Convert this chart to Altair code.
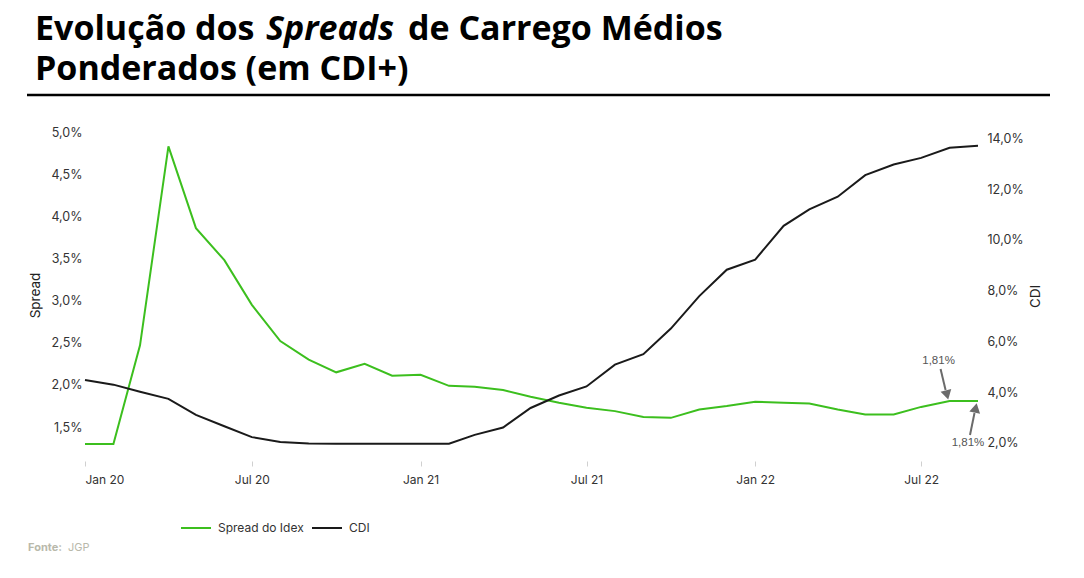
import altair as alt
import pandas as pd

# ---------------- data ----------------
months = pd.date_range("2020-01-01", periods=33, freq="MS").strftime("%Y-%m-%dT00:00:00").tolist()
spread = [1.30, 1.30, 2.47, 4.83, 3.86, 3.48, 2.95, 2.52, 2.30, 2.15, 2.25, 2.11, 2.12,
          1.99, 1.98, 1.94, 1.86, 1.79, 1.73, 1.69, 1.62, 1.61, 1.71, 1.75, 1.80, 1.79,
          1.78, 1.71, 1.65, 1.65, 1.74, 1.81, 1.81]
cdi = [4.47, 4.29, 4.01, 3.73, 3.10, 2.65, 2.22, 2.03, 1.97, 1.96, 1.96, 1.96, 1.96,
       1.96, 2.31, 2.60, 3.37, 3.86, 4.22, 5.08, 5.49, 6.50, 7.78, 8.82, 9.22, 10.55,
       11.20, 11.70, 12.55, 12.97, 13.23, 13.63, 13.71]
series_names = ["Spread do Idex", "CDI"]
series_colors = ["#3cbf1e", "#1a1a1a"]
left_ticks = [1.5, 2.0, 2.5, 3.0, 3.5, 4.0, 4.5, 5.0]
right_ticks = [2, 4, 6, 8, 10, 12, 14]
x_tick_ym = [(2020, 1), (2020, 7), (2021, 1), (2021, 7), (2022, 1), (2022, 7)]
annot_dates = ["2022-08-01T00:00:00", "2022-09-01T00:00:00"]
annot_values = [1.81, 1.81]
title_line1 = ["Evolução dos", "Spreads", "de Carrego Médios"]
title_line2 = "Ponderados (em CDI+)"
source_label = ["Fonte:", "JGP"]

# ---------------- frames ----------------
df = pd.DataFrame({"date": months, "spread": spread, "cdi": cdi})
ann = pd.DataFrame({"date": annot_dates, "value": annot_values})
ann["label"] = ann["value"].map(lambda v: f"{v:.2f}".replace(".", ",") + "%")
one = pd.DataFrame({"k": [0]})

FONT = "Inter"
LBL = "#333333"
pct_expr = "replace(format(datum.value, '.1f'), '.', ',') + '%'"

xdomain = [alt.DateTime(year=2020, month=1, date=1), alt.DateTime(year=2022, month=9, date=1)]
xvals = [alt.DateTime(year=y, month=m, date=1) for y, m in x_tick_ym]

def xenc():
    return alt.X(
        "date:T",
        scale=alt.Scale(domain=xdomain, nice=False),
        axis=alt.Axis(
            values=xvals, labelExpr="timeFormat(datum.value, '%b %y')", title=None,
            domain=False, grid=False, ticks=True, tickSize=5, tickColor="#d0d0d0",
            offset=17, labelPadding=8, labelFont=FONT, labelFontSize=12, labelColor=LBL,
        ),
    )

def yleft(field):
    return alt.Y(
        field, scale=alt.Scale(domain=[1.3, 5.0], nice=False, zero=False),
        axis=alt.Axis(
            orient="left", values=left_ticks, labelExpr=pct_expr, grid=False, domain=False,
            ticks=False, labelPadding=3, labelFont=FONT, labelFontSize=12.5, labelColor=LBL,
            title="Spread", titleFont=FONT, titleFontSize=13.5, titleFontWeight="normal",
            titleColor="#222", titleAngle=270, titleX=-50, titleY=163,
            titleAlign="center", titleBaseline="middle",
        ),
    )

spread_line = alt.Chart(df).mark_line(strokeWidth=2).encode(
    x=xenc(), y=yleft("spread:Q"), color=alt.datum(series_names[0]),
)

# annotation arrows
ARROW = "#6b6b6b"
rule_top = alt.Chart(ann.iloc[[0]]).mark_rule(
    color=ARROW, strokeWidth=2, xOffset=-9, yOffset=-32, x2Offset=-4, y2Offset=-11
).encode(x=xenc(), y=yleft("value:Q"), x2="date:T", y2="value:Q")
head_top = alt.Chart(ann.iloc[[0]]).mark_point(
    shape="triangle-down", filled=True, color=ARROW, size=120, angle=346,
    xOffset=-2.5, yOffset=-6, opacity=1
).encode(x=xenc(), y=yleft("value:Q"))
text_top = alt.Chart(ann.iloc[[0]]).mark_text(
    font="Liberation Sans", fontSize=11.5, color="#555555", dx=-11, dy=-40
).encode(x=xenc(), y=yleft("value:Q"), text="label:N")

rule_bot = alt.Chart(ann.iloc[[1]]).mark_rule(
    color=ARROW, strokeWidth=2, xOffset=-8, yOffset=34, x2Offset=-3.5, y2Offset=12
).encode(x=xenc(), y=yleft("value:Q"), x2="date:T", y2="value:Q")
head_bot = alt.Chart(ann.iloc[[1]]).mark_point(
    shape="triangle-up", filled=True, color=ARROW, size=120, angle=12,
    xOffset=-2.3, yOffset=7, opacity=1
).encode(x=xenc(), y=yleft("value:Q"))
text_bot = alt.Chart(ann.iloc[[1]]).mark_text(
    font="Liberation Sans", fontSize=11.5, color="#555555", dx=-10, dy=42
).encode(x=xenc(), y=yleft("value:Q"), text="label:N")

# title, rule and source (page furniture)
tfont = dict(font="Open Sans", fontSize=34, fontWeight="bold", color="#000000", baseline="alphabetic")
t1 = alt.Chart(one).mark_text(align="left", **tfont).encode(
    x=alt.value(-50), y=alt.value(-92), text=alt.value(title_line1[0]))
t2 = alt.Chart(one).mark_text(align="left", fontStyle="italic", **tfont).encode(
    x=alt.value(181), y=alt.value(-92), text=alt.value(title_line1[1]))
t3 = alt.Chart(one).mark_text(align="left", **tfont).encode(
    x=alt.value(323), y=alt.value(-92), text=alt.value(title_line1[2]))
t4 = alt.Chart(one).mark_text(align="left", **tfont).encode(
    x=alt.value(-50), y=alt.value(-52), text=alt.value(title_line2))
hr = alt.Chart(one).mark_rule(color="#000000", strokeWidth=2.5).encode(
    x=alt.value(-58), x2=alt.value(965), y=alt.value(-37))
src1 = alt.Chart(one).mark_text(align="left", baseline="middle", font=FONT, fontSize=11,
                                fontWeight="bold", color="#b9b9ab").encode(
    x=alt.value(-57), y=alt.value(416), text=alt.value(source_label[0]))
src2 = alt.Chart(one).mark_text(align="left", baseline="middle", font=FONT, fontSize=11,
                                color="#b9b9ab").encode(
    x=alt.value(-17), y=alt.value(416), text=alt.value(source_label[1]))

left_layer = alt.layer(spread_line, rule_top, head_top, text_top, rule_bot, head_bot, text_bot,
                       t1, t2, t3, t4, hr, src1, src2)

cdi_line = alt.Chart(df).mark_line(strokeWidth=2).encode(
    x=xenc(),
    y=alt.Y(
        "cdi:Q", scale=alt.Scale(domain=[1.95, 14.25], nice=False, zero=False),
        axis=alt.Axis(
            orient="right", values=right_ticks, labelExpr=pct_expr, grid=False, domain=False,
            ticks=False, labelPadding=9, labelFont=FONT, labelFontSize=12.5, labelColor=LBL,
            title="CDI", titleFont=FONT, titleFontSize=13.5, titleFontWeight="normal",
            titleColor="#222", titleAngle=270, titleX=57, titleY=164,
            titleAlign="center", titleBaseline="middle",
        ),
    ),
    color=alt.datum(series_names[1]),
)

chart = alt.layer(left_layer, cdi_line).resolve_scale(y="independent").encode(
    color=alt.Color(
        scale=alt.Scale(domain=series_names, range=series_colors),
        legend=alt.Legend(
            title=None, orient="none", legendX=95, legendY=380, direction="horizontal",
            symbolType="stroke", symbolSize=900, symbolStrokeWidth=2, labelFont=FONT,
            labelFontSize=12, labelColor=LBL, columnPadding=4, labelOffset=6,
        ),
    )
).properties(
    width=893, height=312, autosize="none", background="white",
    padding={"left": 77, "top": 124, "right": 98, "bottom": 126},
).configure_view(stroke=None)

chart.save("out.html", embed_options={"renderer": "svg", "actions": False})
